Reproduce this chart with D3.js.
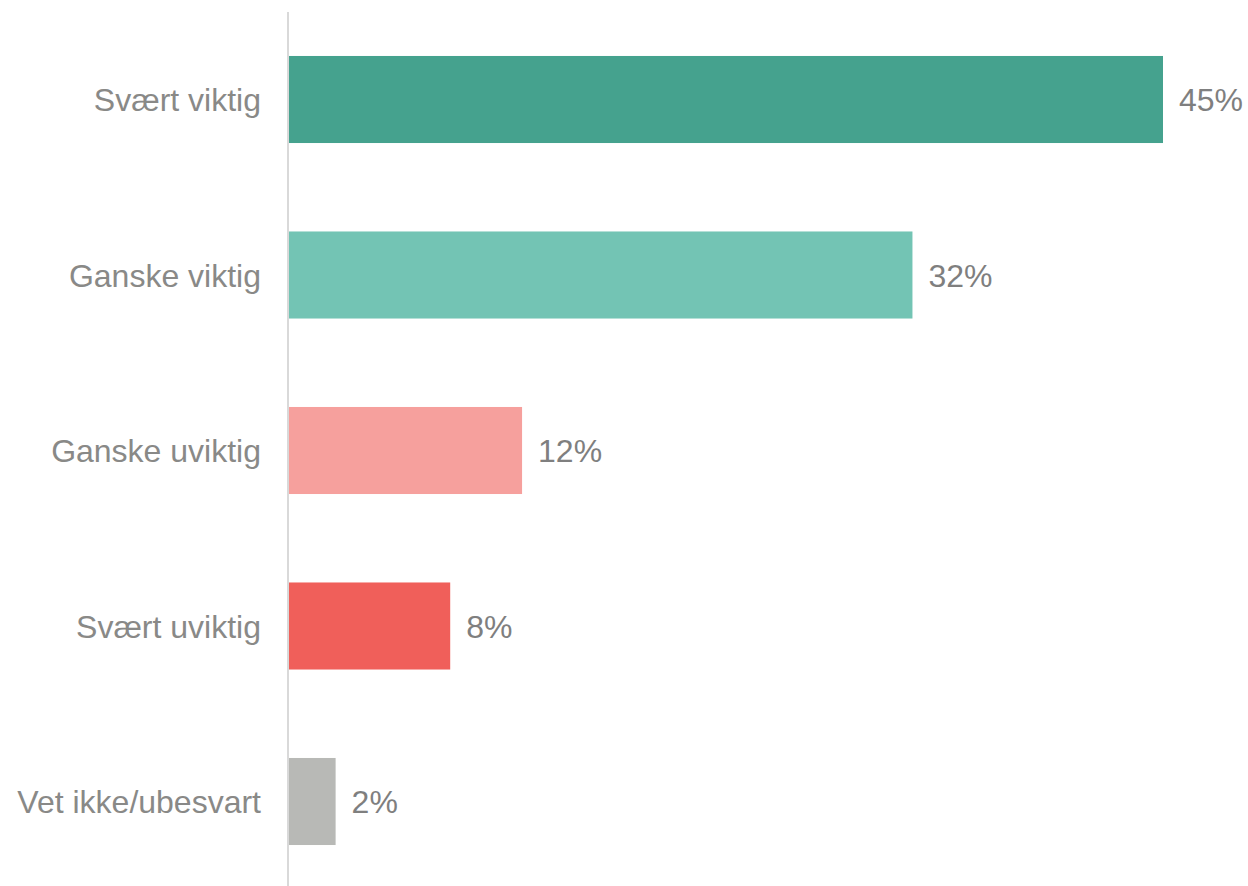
<!DOCTYPE html>
<html>
<head>
<meta charset="utf-8">
<script src="https://cdn.jsdelivr.net/npm/d3@7"></script>
<style>
body { margin: 0; background: #fff; }
svg text { font-family: "Liberation Sans", Arial, sans-serif; }
</style>
</head>
<body>
<svg id="chart" width="1248" height="886"></svg>
<script>
// answer categories, top to bottom
var categories = ["Svært viktig", "Ganske viktig", "Ganske uviktig", "Svært uviktig", "Vet ikke/ubesvart"];
// share of respondents (%)
var values = [45, 32.1, 12, 8.3, 2.4];
var labels = ["45%", "32%", "12%", "8%", "2%"];
var colors = ["#45a28e", "#73c4b4", "#f6a09d", "#f05f5a", "#b8b9b6"];

var svg = d3.select("#chart");
var left = 289;

var x = d3.scaleLinear()
	.domain([0, 45])
	.range([left, 1163]);

var y = d3.scaleBand()
	.domain(categories)
	.range([11.75, 889.25])
	.paddingInner(0.504)
	.paddingOuter(0.252);

var data = categories.map(function(c, i){
	return {cat: c, val: values[i], label: labels[i], color: colors[i]};
});

// bars
svg.selectAll("rect.bar")
	.data(data)
	.enter()
	.append("rect")
	.attr("class", "bar")
	.attr("x", x(0))
	.attr("y", function(d){ return y(d.cat); })
	.attr("width", function(d){ return x(d.val) - x(0); })
	.attr("height", y.bandwidth())
	.style("fill", function(d){ return d.color; });

// category axis, no ticks
var axis = svg.append("g")
	.attr("transform", "translate(" + (left - 1) + ",0)")
	.call(d3.axisLeft(y).tickSize(0).tickPadding(27));
axis.select(".domain")
	.attr("d", "M0,12V886")
	.attr("stroke", "#d9d9d9")
	.attr("stroke-width", 2);
axis.selectAll("text")
	.style("font-size", "32px")
	.style("fill", "#898987")
	.attr("dy", "0.36em");

// value labels
svg.selectAll("text.val")
	.data(data)
	.enter()
	.append("text")
	.attr("class", "val")
	.attr("x", function(d){ return x(d.val) + 16; })
	.attr("y", function(d){ return y(d.cat) + y.bandwidth() / 2; })
	.attr("dy", "0.36em")
	.style("font-size", "32px")
	.style("fill", "#7f7f7f")
	.text(function(d){ return d.label; });
</script>
</body>
</html>
